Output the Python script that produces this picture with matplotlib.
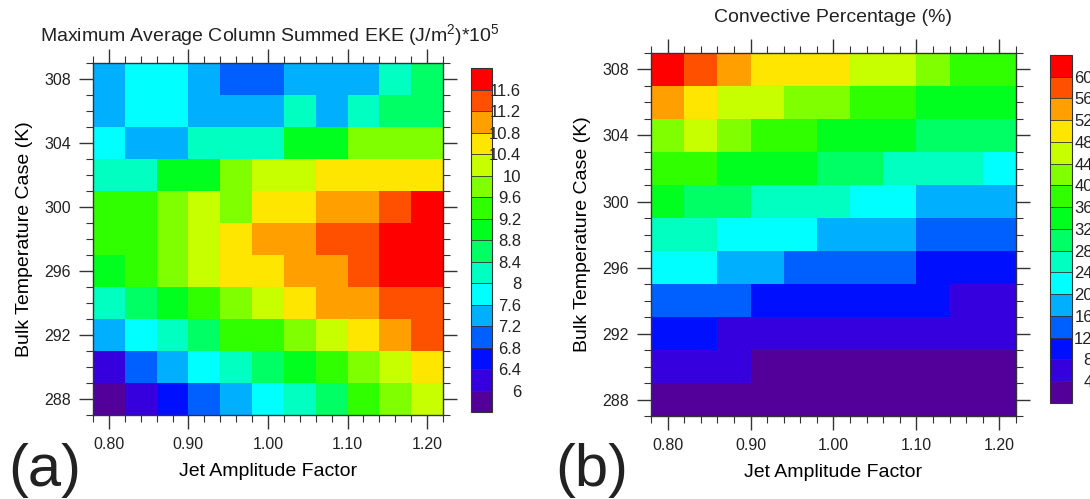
import numpy as np
import matplotlib
matplotlib.use("Agg")
import matplotlib.pyplot as plt
from matplotlib.colors import ListedColormap, BoundaryNorm
from matplotlib.ticker import MultipleLocator, FormatStrFormatter

plt.rcParams['font.family'] = ['Liberation Sans', 'DejaVu Sans']
plt.rcParams['mathtext.default'] = 'regular'
plt.rcParams['text.color'] = '#222222'

# x: jet amplitude factor, y: bulk temperature case (K)
jet_factor = [0.80, 0.84, 0.88, 0.92, 0.96, 1.00, 1.04, 1.08, 1.12, 1.16, 1.20]
temp_case = [288, 290, 292, 294, 296, 298, 300, 302, 304, 306, 308]

# panel (a) EKE, rows listed from 308 (top) down to 288
eke_rows = [
    [7.4, 7.8, 7.8, 7.4, 7.0, 7.0, 7.4, 7.4, 7.4, 8.2, 8.6],
    [7.4, 7.8, 7.8, 7.4, 7.4, 7.4, 8.2, 7.4, 8.2, 8.6, 8.6],
    [7.8, 7.4, 7.4, 8.2, 8.2, 8.2, 9.0, 9.0, 9.8, 9.8, 9.8],
    [8.2, 8.2, 9.0, 9.0, 9.8, 10.2, 10.2, 10.6, 10.6, 10.6, 10.6],
    [9.4, 9.4, 9.8, 10.2, 9.8, 10.6, 10.6, 11.0, 11.0, 11.4, 11.8],
    [9.4, 9.4, 9.8, 10.2, 10.6, 11.0, 11.0, 11.4, 11.4, 11.8, 11.8],
    [9.0, 9.4, 9.8, 10.2, 10.6, 10.6, 11.0, 11.0, 11.4, 11.8, 11.8],
    [8.2, 8.6, 9.0, 9.4, 9.8, 10.2, 10.6, 11.0, 11.0, 11.4, 11.4],
    [7.4, 7.8, 8.2, 8.6, 9.4, 9.4, 9.8, 10.2, 10.6, 11.0, 11.4],
    [6.2, 7.0, 7.4, 7.8, 8.2, 8.6, 9.0, 9.4, 9.8, 10.2, 10.6],
    [5.8, 6.2, 6.6, 7.0, 7.4, 7.8, 8.2, 8.6, 9.4, 9.8, 10.2],
]

# panel (b) convective percentage, rows from 308 down to 288
conv_rows = [
    [62, 58, 54, 50, 50, 50, 46, 46, 42, 38, 38],
    [54, 50, 46, 46, 42, 42, 38, 38, 34, 34, 34],
    [42, 46, 42, 38, 38, 34, 34, 34, 30, 30, 30],
    [38, 38, 34, 34, 34, 30, 30, 26, 26, 26, 22],
    [34, 30, 30, 26, 26, 26, 22, 22, 18, 18, 18],
    [26, 26, 22, 22, 22, 18, 18, 18, 14, 14, 14],
    [22, 22, 18, 18, 14, 14, 14, 14, 10, 10, 10],
    [14, 14, 14, 10, 10, 10, 10, 10, 10, 6, 6],
    [10, 10, 6, 6, 6, 6, 6, 6, 6, 6, 6],
    [6, 6, 6, 2, 2, 2, 2, 2, 2, 2, 2],
    [2, 2, 2, 2, 2, 2, 2, 2, 2, 2, 2],
]

eke_levels = [6, 6.4, 6.8, 7.2, 7.6, 8, 8.4, 8.8, 9.2, 9.6, 10, 10.4, 10.8, 11.2, 11.6]
conv_levels = [4, 8, 12, 16, 20, 24, 28, 32, 36, 40, 44, 48, 52, 56, 60]

colors = ['#520099', '#3500DD', '#0010FF', '#0060FF', '#00B0FF', '#00FFFF',
          '#00FFC0', '#00FF64', '#00FF1E', '#30FF00', '#80FF00', '#C8FF00',
          '#FFE600', '#FFA000', '#FF5000', '#FF0000']
cmap = ListedColormap(colors)

fig = plt.figure(figsize=(10.9, 4.99), dpi=100)


def panel(ax_rect, cax_rect, rows, levels, cb_pad):
    ax = fig.add_axes(ax_rect)
    cax = fig.add_axes(cax_rect)
    norm = BoundaryNorm(levels, ncolors=16, extend='both')
    z = np.array(rows[::-1])
    m = ax.pcolormesh(jet_factor, temp_case, z, cmap=cmap, norm=norm, shading='nearest')
    ax.set_xlim(0.78, 1.22)
    ax.set_ylim(287, 309)
    ax.xaxis.set_major_locator(MultipleLocator(0.1))
    ax.xaxis.set_minor_locator(MultipleLocator(0.02))
    ax.xaxis.set_major_formatter(FormatStrFormatter('%.2f'))
    ax.yaxis.set_major_locator(MultipleLocator(4))
    ax.yaxis.set_minor_locator(MultipleLocator(1))
    ax.tick_params(which='both', direction='out', top=True, right=True,
                   color='#333333', labelsize=11.5, labelcolor='#222222')
    ax.tick_params(which='major', length=10, width=1, pad=6)
    ax.tick_params(which='minor', length=5, width=0.8)
    for s in ax.spines.values():
        s.set_color('#333333')
        s.set_linewidth(1)
    ax.set_xlabel('Jet Amplitude Factor', fontsize=14, labelpad=8)
    ax.set_ylabel('Bulk Temperature Case (K)', fontsize=14, labelpad=8)

    cb = fig.colorbar(m, cax=cax, extend='both', extendrect=True, extendfrac='auto',
                      drawedges=True, ticks=levels)
    cb.outline.set_edgecolor('#333333')
    cb.outline.set_linewidth(0.8)
    cb.dividers.set_color('#333333')
    cb.dividers.set_linewidth(0.6)
    cb.ax.yaxis.set_major_formatter(FormatStrFormatter('%g'))
    cb.ax.tick_params(length=0, labelsize=12, labelcolor='#222222', pad=cb_pad)
    for t in cb.ax.get_yticklabels():
        t.set_horizontalalignment('right')
    return ax


ax_a = panel([0.0853, 0.1683, 0.3211, 0.7054], [0.4321, 0.1743, 0.0193, 0.6894],
             eke_rows, eke_levels, 21)
ax_b = panel([0.5972, 0.1663, 0.3349, 0.7275], [0.9633, 0.1924, 0.0202, 0.6974],
             conv_rows, conv_levels, 15)

fig.text(270 / 1090, 1 - 35 / 499, 'Maximum Average Column Summed EKE (J/m$^2$)*10$^5$',
         fontsize=14, ha='center', va='center')
fig.text(833 / 1090, 1 - 18 / 499, 'Convective Percentage (%)',
         fontsize=14, ha='center', va='center')

fig.text(8 / 1090, 1 - 470 / 499, '(a)', fontsize=43, ha='left', va='center')
fig.text(555 / 1090, 1 - 470 / 499, '(b)', fontsize=43, ha='left', va='center')

fig.savefig('out.png', dpi=100)
